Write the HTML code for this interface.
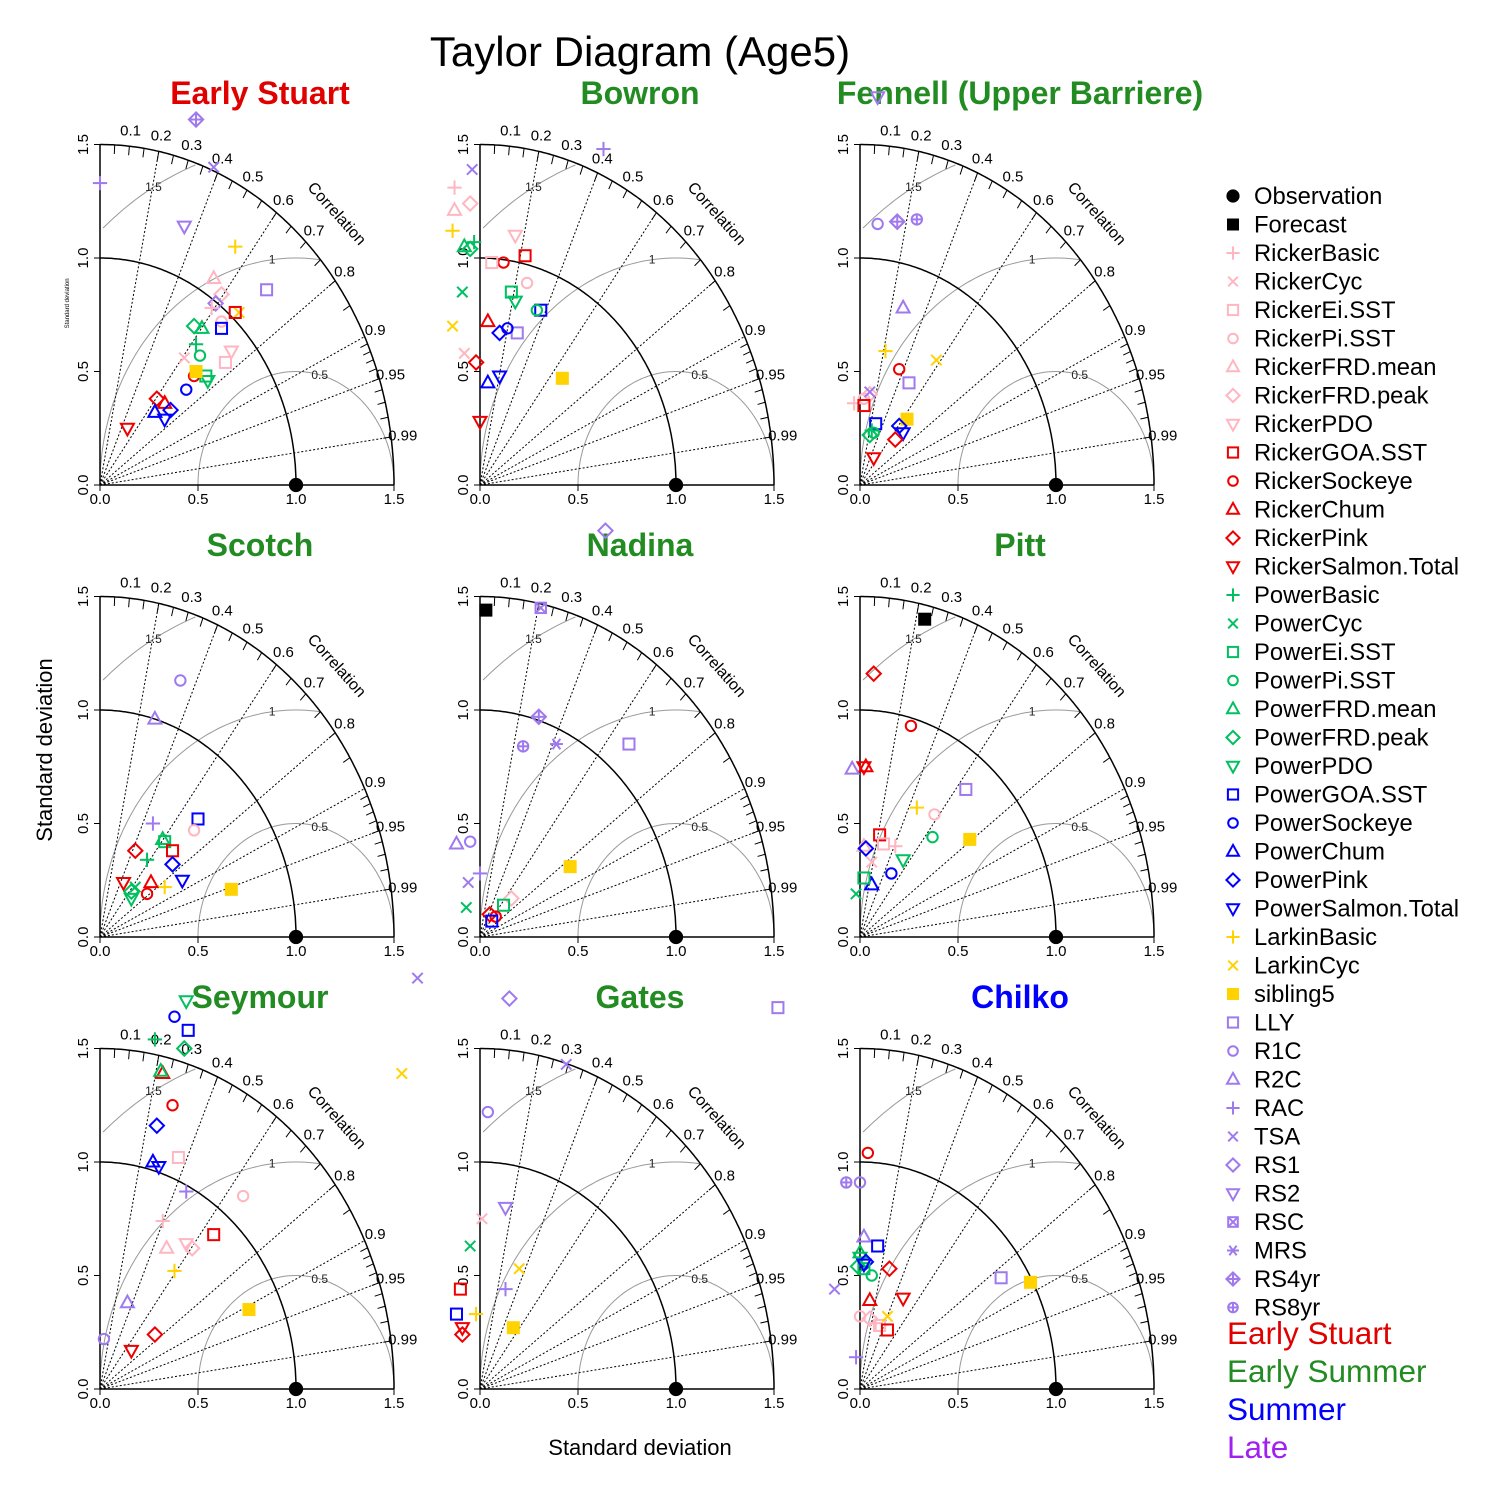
<!DOCTYPE html>
<html><head><meta charset="utf-8"><style>
html,body{margin:0;padding:0;background:#fff}
svg{display:block;font-family:"Liberation Sans",Arial,sans-serif}
</style></head><body>
<svg id="chart" width="1500" height="1500" viewBox="0 0 1500 1500" xmlns="http://www.w3.org/2000/svg">
<rect width="1500" height="1500" fill="#fff"/>
<text x="640" y="66" font-size="42" text-anchor="middle">Taylor Diagram (Age5)</text>
<text x="640" y="1455" font-size="22" text-anchor="middle">Standard deviation</text>
<text x="52" y="750" font-size="22" text-anchor="middle" transform="rotate(-90 52 750)">Standard deviation</text>
<g id="panels"></g>
<g id="legend"></g>
</svg>
<script>
// ---- data ----
const panelNames = ["Early Stuart","Bowron","Fennell (Upper Barriere)","Scotch","Nadina","Pitt","Seymour","Gates","Chilko"];
const panelGroups = ["Early Stuart","Early Summer","Early Summer","Early Summer","Early Summer","Early Summer","Early Summer","Early Summer","Summer"];
const modelNames = ["Observation","Forecast","RickerBasic","RickerCyc","RickerEi.SST","RickerPi.SST","RickerFRD.mean","RickerFRD.peak","RickerPDO","RickerGOA.SST","RickerSockeye","RickerChum","RickerPink","RickerSalmon.Total","PowerBasic","PowerCyc","PowerEi.SST","PowerPi.SST","PowerFRD.mean","PowerFRD.peak","PowerPDO","PowerGOA.SST","PowerSockeye","PowerChum","PowerPink","PowerSalmon.Total","LarkinBasic","LarkinCyc","sibling5","LLY","R1C","R2C","RAC","TSA","RS1","RS2","RSC","MRS","RS4yr","RS8yr"];
const groupLabels = ["Early Stuart","Early Summer","Summer","Late"];
// each point: [model, x-component (sd*cor), y-component (sd*sqrt(1-cor^2))]
const panel1 = [["RS4yr",0.49,1.61],["RAC",0,1.33],["TSA",0.58,1.40],["RS2",0.43,1.14],["LarkinBasic",0.69,1.05],["LLY",0.85,0.86],["RickerFRD.mean",0.58,0.91],["RickerFRD.peak",0.62,0.84],["RS1",0.59,0.80],["RickerBasic",0.57,0.78],["LarkinCyc",0.71,0.76],["RickerGOA.SST",0.69,0.76],["RickerPi.SST",0.62,0.72],["PowerGOA.SST",0.62,0.69],["PowerFRD.peak",0.48,0.70],["PowerFRD.mean",0.52,0.69],["PowerBasic",0.49,0.62],["PowerPi.SST",0.51,0.57],["RickerPDO",0.67,0.59],["RickerEi.SST",0.64,0.54],["RickerCyc",0.43,0.56],["RickerSockeye",0.48,0.48],["PowerEi.SST",0.54,0.48],["PowerPDO",0.55,0.46],["sibling5",0.49,0.50],["PowerSockeye",0.44,0.42],["RickerPink",0.29,0.38],["RickerChum",0.33,0.36],["PowerChum",0.28,0.32],["PowerPink",0.36,0.33],["PowerSalmon.Total",0.33,0.29],["RickerSalmon.Total",0.14,0.25]];
const panel2 = [["RAC",0.63,1.48],["TSA",-0.04,1.39],["RickerBasic",-0.13,1.31],["RickerFRD.peak",-0.05,1.24],["RickerFRD.mean",-0.13,1.21],["LarkinBasic",-0.14,1.12],["RickerPDO",0.18,1.10],["PowerBasic",-0.03,1.07],["PowerFRD.mean",-0.08,1.05],["PowerFRD.peak",-0.05,1.04],["RickerGOA.SST",0.23,1.01],["RickerSockeye",0.12,0.98],["RickerEi.SST",0.06,0.98],["RickerPi.SST",0.24,0.89],["PowerEi.SST",0.16,0.85],["PowerPDO",0.18,0.81],["PowerCyc",-0.09,0.85],["PowerGOA.SST",0.31,0.77],["PowerPi.SST",0.29,0.77],["LarkinCyc",-0.14,0.70],["RickerChum",0.04,0.72],["LLY",0.19,0.67],["PowerSockeye",0.14,0.69],["PowerPink",0.10,0.67],["RickerCyc",-0.08,0.58],["RickerPink",-0.02,0.54],["sibling5",0.42,0.47],["PowerSalmon.Total",0.10,0.48],["PowerChum",0.04,0.45],["RickerSalmon.Total",0.0,0.28]];
const panel3 = [["RS2",0.09,1.71],["R1C",0.09,1.15],["RS1",0.19,1.16],["RS4yr",0.19,1.16],["RS8yr",0.29,1.17],["R2C",0.22,0.78],["LarkinBasic",0.13,0.59],["LarkinCyc",0.39,0.55],["RickerSockeye",0.20,0.51],["LLY",0.25,0.45],["RickerPi.SST",0.02,0.38],["RickerFRD.peak",0.05,0.40],["TSA",0.05,0.41],["RickerBasic",-0.03,0.36],["RickerGOA.SST",0.02,0.35],["sibling5",0.24,0.29],["PowerGOA.SST",0.08,0.27],["PowerBasic",0.06,0.24],["PowerFRD.peak",0.05,0.22],["PowerPi.SST",0.07,0.23],["PowerPink",0.20,0.26],["PowerSalmon.Total",0.22,0.23],["RickerPink",0.18,0.20],["RickerSalmon.Total",0.07,0.12]];
const panel4 = [["R1C",0.41,1.13],["R2C",0.28,0.96],["PowerGOA.SST",0.50,0.52],["RAC",0.27,0.50],["RickerPi.SST",0.48,0.47],["PowerFRD.mean",0.32,0.43],["PowerEi.SST",0.33,0.42],["RickerGOA.SST",0.37,0.38],["RickerPink",0.18,0.38],["PowerBasic",0.24,0.34],["PowerPink",0.37,0.32],["PowerSalmon.Total",0.42,0.25],["LarkinBasic",0.33,0.22],["sibling5",0.67,0.21],["RickerChum",0.26,0.24],["RickerSalmon.Total",0.12,0.24],["PowerCyc",0.18,0.22],["PowerFRD.peak",0.16,0.20],["PowerPDO",0.16,0.17],["RickerSockeye",0.24,0.19]];
const panel5 = [["RS1",0.64,1.79],["Forecast",0.03,1.44],["RSC",0.31,1.45],["RS4yr",0.30,0.97],["MRS",0.39,0.85],["RS8yr",0.22,0.84],["LLY",0.76,0.85],["R1C",-0.05,0.42],["R2C",-0.12,0.41],["sibling5",0.46,0.31],["RAC",0,0.28],["TSA",-0.06,0.24],["PowerCyc",-0.07,0.13],["RickerFRD.peak",0.16,0.17],["PowerEi.SST",0.12,0.14],["RickerPink",0.05,0.10],["RickerSockeye",0.08,0.09],["PowerGOA.SST",0.06,0.07]];
const panel6 = [["Forecast",0.33,1.40],["RickerPink",0.07,1.16],["RickerSockeye",0.26,0.93],["RickerChum",0.03,0.75],["RickerSalmon.Total",0.02,0.75],["R2C",-0.04,0.74],["LLY",0.54,0.65],["LarkinBasic",0.29,0.57],["RickerPi.SST",0.38,0.54],["sibling5",0.56,0.43],["RickerGOA.SST",0.10,0.45],["PowerPi.SST",0.37,0.44],["RickerFRD.mean",0.02,0.40],["RickerBasic",0.18,0.40],["RickerEi.SST",0.12,0.41],["PowerPink",0.03,0.39],["RickerCyc",0.06,0.33],["PowerPDO",0.22,0.34],["PowerSockeye",0.16,0.28],["PowerChum",0.06,0.23],["PowerEi.SST",0.02,0.26],["PowerCyc",-0.02,0.19]];
const panel7 = [["TSA",1.62,1.81],["PowerPDO",0.44,1.71],["PowerSockeye",0.38,1.64],["PowerGOA.SST",0.45,1.58],["PowerBasic",0.28,1.54],["PowerFRD.peak",0.43,1.50],["LarkinCyc",1.54,1.39],["RickerChum",0.32,1.39],["PowerFRD.mean",0.31,1.40],["RickerSockeye",0.37,1.25],["PowerPink",0.29,1.16],["RickerEi.SST",0.40,1.02],["PowerChum",0.27,1.00],["PowerSalmon.Total",0.30,0.98],["RAC",0.44,0.87],["RickerPi.SST",0.73,0.85],["RickerBasic",0.32,0.74],["RickerGOA.SST",0.58,0.68],["RickerFRD.mean",0.34,0.62],["RickerFRD.peak",0.47,0.62],["RickerPDO",0.44,0.64],["LarkinBasic",0.38,0.52],["sibling5",0.76,0.35],["R2C",0.14,0.38],["RickerPink",0.28,0.24],["R1C",0.02,0.22],["RickerSalmon.Total",0.16,0.17]];
const panel8 = [["RS1",0.15,1.72],["LLY",1.52,1.68],["TSA",0.44,1.43],["R1C",0.04,1.22],["RS2",0.13,0.80],["RickerCyc",0.01,0.75],["PowerCyc",-0.05,0.63],["LarkinCyc",0.20,0.53],["RickerGOA.SST",-0.10,0.44],["RAC",0.13,0.44],["LarkinBasic",-0.02,0.33],["PowerGOA.SST",-0.12,0.33],["sibling5",0.17,0.27],["RickerSalmon.Total",-0.09,0.27],["RickerPink",-0.09,0.24]];
const panel9 = [["RickerSockeye",0.04,1.04],["RS8yr",-0.07,0.91],["R1C",0.0,0.91],["R2C",0.02,0.67],["PowerGOA.SST",0.09,0.63],["PowerFRD.mean",0.0,0.60],["PowerPDO",0.0,0.58],["PowerPink",0.03,0.56],["PowerEi.SST",0.02,0.53],["PowerFRD.peak",-0.01,0.54],["PowerPi.SST",0.06,0.50],["PowerSalmon.Total",0.02,0.55],["LLY",0.72,0.49],["sibling5",0.87,0.47],["RickerPink",0.15,0.53],["TSA",-0.13,0.44],["RickerSalmon.Total",0.22,0.40],["RickerChum",0.05,0.39],["RickerPi.SST",0.0,0.32],["RickerFRD.peak",0.05,0.31],["RickerBasic",0.08,0.29],["RickerEi.SST",0.10,0.28],["LarkinCyc",0.14,0.32],["RickerGOA.SST",0.14,0.26],["RAC",-0.02,0.14]];
const panelData = [panel1,panel2,panel3,panel4,panel5,panel6,panel7,panel8,panel9];
const corLabels = [0.1,0.2,0.3,0.4,0.5,0.6,0.7,0.8,0.9,0.95,0.99];
const corRays = [0.2,0.4,0.6,0.8,0.9,0.95,0.99];
const sdTicks = [0.0,0.5,1.0,1.5];
const rmsLevels = [0.5,1,1.5];

// ---- styling ----
const NS="http://www.w3.org/2000/svg";
const PINK="#ffb6c1",RED="#ee0000",GRN="#00c060",BLU="#0000ff",GOLD="#ffd200",PUR="#9f79ee";
const groupColor={"Early Stuart":"#e00000","Early Summer":"#228b22","Summer":"#0000ff","Late":"#a020f0"};
function style(m){
  const shapes=["plus","x","square","circle","tri","diamond","down"];
  if(m==="Observation")return[ "#000","dot"];
  if(m==="Forecast")return["#000","fsquare"];
  const rk=["RickerBasic","RickerCyc","RickerEi.SST","RickerPi.SST","RickerFRD.mean","RickerFRD.peak","RickerPDO"];
  const pw=["PowerBasic","PowerCyc","PowerEi.SST","PowerPi.SST","PowerFRD.mean","PowerFRD.peak","PowerPDO"];
  if(rk.includes(m))return[PINK,shapes[rk.indexOf(m)]];
  if(pw.includes(m))return[GRN,shapes[pw.indexOf(m)]];
  const cov=["GOA.SST","Sockeye","Chum","Pink","Salmon.Total"], cs=["square","circle","tri","diamond","down"];
  for(let i=0;i<5;i++){if(m==="Ricker"+cov[i])return[RED,cs[i]];if(m==="Power"+cov[i])return[BLU,cs[i]];}
  if(m==="LarkinBasic")return[GOLD,"plus"];
  if(m==="LarkinCyc")return[GOLD,"x"];
  if(m==="sibling5")return[GOLD,"fsquare"];
  const lt={"LLY":"square","R1C":"circle","R2C":"tri","RAC":"plus","TSA":"x","RS1":"diamond","RS2":"down","RSC":"sqx","MRS":"star","RS4yr":"diaplus","RS8yr":"circplus"};
  return[PUR,lt[m]];
}
function el(tag,attrs,parent){const e=document.createElementNS(NS,tag);for(const k in attrs)e.setAttribute(k,attrs[k]);parent.appendChild(e);return e;}
function marker(parent,m,cx,cy,s){
  const [c,sh]=style(m);
  const g=el("g",{stroke:c,"stroke-width":2,fill:"none"},parent);
  
  
  const h=s/2;
  const line=(a,b,c2,d)=>el("line",{x1:a,y1:b,x2:c2,y2:d},g);
  if(sh==="dot")el("circle",{cx,cy,r:h*1.1,fill:c,stroke:"none"},g);
  else if(sh==="fsquare")el("rect",{x:cx-h,y:cy-h,width:s,height:s,fill:c,stroke:"none"},g);
  else if(sh==="square")el("rect",{x:cx-h*0.85,y:cy-h*0.85,width:s*0.85,height:s*0.85},g);
  else if(sh==="circle")el("circle",{cx,cy,r:h*0.8},g);
  else if(sh==="plus"){line(cx-h*1.1,cy,cx+h*1.1,cy);line(cx,cy-h*1.1,cx,cy+h*1.1);}
  else if(sh==="x"){line(cx-h*0.8,cy-h*0.8,cx+h*0.8,cy+h*0.8);line(cx-h*0.8,cy+h*0.8,cx+h*0.8,cy-h*0.8);}
  else if(sh==="tri")el("polygon",{points:`${cx},${cy-h*1.1} ${cx+h},${cy+h*0.7} ${cx-h},${cy+h*0.7}`},g);
  else if(sh==="down")el("polygon",{points:`${cx},${cy+h*1.1} ${cx+h},${cy-h*0.7} ${cx-h},${cy-h*0.7}`},g);
  else if(sh==="diamond")el("polygon",{points:`${cx},${cy-h*1.1} ${cx+h*1.1},${cy} ${cx},${cy+h*1.1} ${cx-h*1.1},${cy}`},g);
  else if(sh==="sqx"){el("rect",{x:cx-h*0.8,y:cy-h*0.8,width:s*0.8,height:s*0.8},g);line(cx-h*0.8,cy-h*0.8,cx+h*0.8,cy+h*0.8);line(cx-h*0.8,cy+h*0.8,cx+h*0.8,cy-h*0.8);}
  else if(sh==="star"){line(cx-h,cy,cx+h,cy);line(cx-h*0.6,cy-h*0.8,cx+h*0.6,cy+h*0.8);line(cx-h*0.6,cy+h*0.8,cx+h*0.6,cy-h*0.8);}
  else if(sh==="diaplus"){el("polygon",{points:`${cx},${cy-h*1.1} ${cx+h*1.1},${cy} ${cx},${cy+h*1.1} ${cx-h*1.1},${cy}`},g);line(cx-h*1.1,cy,cx+h*1.1,cy);line(cx,cy-h*1.1,cx,cy+h*1.1);}
  else if(sh==="circplus"){el("circle",{cx,cy,r:h*0.8},g);line(cx-h*0.8,cy,cx+h*0.8,cy);line(cx,cy-h*0.8,cx,cy+h*0.8);}
  return g;
}

// ---- panels ----
const SX=196, SY=227, MAXSD=1.5;
const origins=[[100,485],[480,485],[860,485],[100,937],[480,937],[860,937],[100,1389],[480,1389],[860,1389]];
const panelsG=document.getElementById("panels");
panelNames.forEach((name,pi)=>{
  const [ox,oy]=origins[pi];
  const X=v=>ox+v*SX, Y=v=>oy-v*SY;
  const g=el("g",{},panelsG);
  
  
  const t=el("text",{x:ox+160,y:oy-381,"font-size":32,"font-weight":"bold","text-anchor":"middle",fill:groupColor[panelGroups[pi]]},g);
  t.textContent=name;
  
  
  // rms arcs
  rmsLevels.forEach((r,ri)=>{
    let pts=[];
    for(let a=0;a<=180;a+=1){const rad=a*Math.PI/180;const x=1+r*Math.cos(rad),y=r*Math.sin(rad);
      if(Math.hypot(x,y)<=MAXSD+1e-6 && x>=0)pts.push(X(x).toFixed(1)+","+Y(y).toFixed(1));}
    const p=el("polyline",{points:pts.join(" "),fill:"none",stroke:"#999","stroke-width":1},g);
    
    
    const la=[76,97,119][ri]*Math.PI/180;
    const lt=el("text",{x:X(1+r*Math.cos(la)),y:Y(r*Math.sin(la))+4,"font-size":12,"text-anchor":"middle",fill:"#222"},g);
    lt.textContent=String(r);
  });
  // correlation rays
  corRays.forEach(c=>{
    const s=Math.sqrt(1-c*c);
    const l=el("line",{x1:ox,y1:oy,x2:X(MAXSD*c),y2:Y(MAXSD*s),stroke:"#000","stroke-width":1,"stroke-dasharray":"2,2"},g);
    
    
  });
  corLabels.forEach(c=>{
    const s=Math.sqrt(1-c*c);
    const tt=el("text",{x:X(1.56*c),y:Y(1.575*s)+6,"font-size":15,"text-anchor":"middle"},g);
    tt.textContent=String(c);
  });
  // outer & sd=1 arcs
  [MAXSD,1].forEach(r=>{
    let pts=[];for(let a=0;a<=90;a+=0.5){const rad=a*Math.PI/180;pts.push(X(r*Math.cos(rad)).toFixed(1)+","+Y(r*Math.sin(rad)).toFixed(1));}
    const p=el("polyline",{points:pts.join(" "),fill:"none",stroke:"#000","stroke-width":1.5},g);
    
    
  });
  // arc ticks
  let tc=[];for(let c=0.05;c<0.9;c+=0.05)tc.push(c);for(let c=0.91;c<1;c+=0.01)tc.push(c);
  tc.forEach(c=>{const s=Math.sqrt(1-c*c);el("line",{x1:X(MAXSD*c),y1:Y(MAXSD*s),x2:X(1.46*c),y2:Y(1.46*s),stroke:"#000","stroke-width":1},g);});
  // axes
  el("line",{x1:ox,y1:oy,x2:ox,y2:Y(MAXSD),stroke:"#000","stroke-width":1.5},g);
  el("line",{x1:ox,y1:oy,x2:X(MAXSD),y2:oy,stroke:"#000","stroke-width":1.5},g);
  sdTicks.forEach(v=>{
    el("line",{x1:ox,y1:Y(v),x2:ox-6,y2:Y(v),stroke:"#000"},g);
    el("line",{x1:X(v),y1:oy,x2:X(v),y2:oy+6,stroke:"#000"},g);
    const a=el("text",{x:ox-12,y:Y(v),"font-size":15,"text-anchor":"middle",transform:`rotate(-90 ${ox-12} ${Y(v)})`},g);a.textContent=v.toFixed(1);
    const b=el("text",{x:X(v),y:oy+19,"font-size":15,"text-anchor":"middle"},g);b.textContent=v.toFixed(1);
  });
  const cl=el("text",{x:ox+233,y:oy-268,"font-size":16,"text-anchor":"middle",transform:`rotate(48 ${ox+233} ${oy-268})`},g);cl.textContent="Correlation";
  if(pi===0){const sl=el("text",{x:ox-31,y:Y(0.8),"font-size":6,"text-anchor":"middle",transform:`rotate(-90 ${ox-31} ${Y(0.8)})`},g);sl.textContent="Standard deviation";}
  // points
  panelData[pi].forEach(p=>{marker(g,p[0],X(p[1]),Y(p[2]),13);});
  marker(g,"Observation",X(1),Y(0),13);
});

// ---- legend ----
const lg=document.getElementById("legend");
modelNames.forEach((m,i)=>{
  const y=196+i*28.5;
  const gi=el("g",{},lg);
  
  
  marker(gi,m,1233,y,12);
  const t=el("text",{x:1254,y:y+8,"font-size":23.8},gi);t.textContent=m;
});
groupLabels.forEach((gname,i)=>{
  const t=el("text",{x:1227,y:1344+i*38,"font-size":31.5,fill:groupColor[gname]},lg);
  t.textContent=gname;
  
  
});
</script>
</body></html>
